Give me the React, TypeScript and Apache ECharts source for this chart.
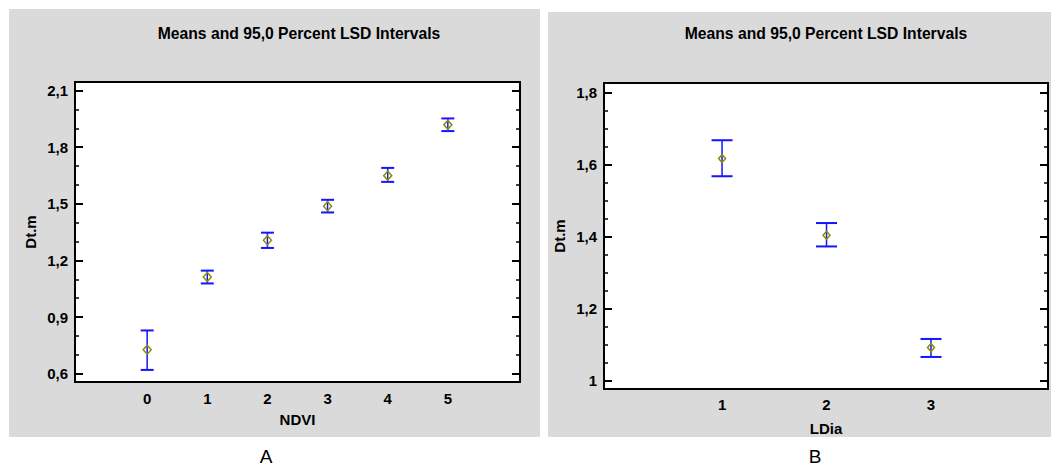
import React, { useEffect, useRef } from 'react';
import * as echarts from 'echarts';

// ---- Panel A : NDVI ----
const ndviCategories = [0, 1, 2, 3, 4, 5];
const ndviMeans = [0.727, 1.112, 1.307, 1.487, 1.649, 1.918];
const ndviLower = [0.620, 1.078, 1.266, 1.454, 1.616, 1.885];
const ndviUpper = [0.829, 1.146, 1.347, 1.521, 1.690, 1.952];
const ndviMajorTicks = [0.6, 0.9, 1.2, 1.5, 1.8, 2.1];
const ndviMinorTicks = [0.7, 0.8, 1.0, 1.1, 1.3, 1.4, 1.6, 1.7, 1.9, 2.0];

// ---- Panel B : LDia ----
const ldiaCategories = [1, 2, 3];
const ldiaMeans = [1.616, 1.403, 1.091];
const ldiaLower = [1.567, 1.372, 1.065];
const ldiaUpper = [1.667, 1.437, 1.115];
const ldiaMajorTicks = [1.0, 1.2, 1.4, 1.6, 1.8];
const ldiaMinorTicks = [1.05, 1.1, 1.15, 1.25, 1.3, 1.35, 1.45, 1.5, 1.55, 1.65, 1.7, 1.75];

const titleText = 'Means and 95,0 Percent LSD Intervals';
const yAxisName = 'Dt.m';
const xNameA = 'NDVI';
const xNameB = 'LDia';
const panelLetters = ['A', 'B'];

const FONT = '"Liberation Sans", Arial, sans-serif';
const PANEL_BG = '#dadada';
const BAR_BLUE = '#1414ff';
const MARKER = '#8c8c00';

const fmt = (v: number) => String(Math.round(v * 10) / 10).replace('.', ',');
const blank = () => '';

function yAxes(g: number, min: number, max: number, major: number[], minor: number[]) {
  const base = {
    type: 'value',
    gridIndex: g,
    min,
    max,
    axisLine: { show: false, onZero: false },
    splitLine: { show: false },
  };
  const labelStyle = {
    color: '#000',
    fontWeight: 'bold',
    fontSize: 15,
    fontFamily: FONT,
  };
  const tick = (len: number, w: number, vals: number[]) => ({
    show: true,
    inside: true,
    length: len,
    lineStyle: { color: '#000', width: w },
    customValues: vals,
  });
  return [
    {
      ...base,
      position: 'left',
      name: yAxisName,
      nameLocation: 'middle',
      nameGap: 37,
      nameTextStyle: labelStyle,
      axisTick: tick(8, 2, major),
      axisLabel: { ...labelStyle, margin: 7, customValues: major, formatter: fmt },
    },
    {
      ...base,
      position: 'left',
      axisTick: tick(4, 1.5, minor),
      axisLabel: { show: true, customValues: minor, formatter: blank },
    },
    {
      ...base,
      position: 'right',
      axisTick: tick(8, 2, major),
      axisLabel: { show: true, margin: 0, customValues: major, formatter: blank },
    },
    {
      ...base,
      position: 'right',
      axisTick: tick(4, 1.5, minor),
      axisLabel: { show: true, margin: 0, customValues: minor, formatter: blank },
    },
  ];
}

function xAxis(g: number, min: number, max: number, cats: number[], name: string, nameGap: number, margin: number) {
  const labelStyle = { color: '#000', fontWeight: 'bold', fontSize: 15, fontFamily: FONT };
  return {
    type: 'value',
    gridIndex: g,
    min,
    max,
    axisLine: { show: false, onZero: false },
    axisTick: { show: false },
    splitLine: { show: false },
    axisLabel: { ...labelStyle, margin, customValues: cats, formatter: (v: number) => String(v) },
    name,
    nameLocation: 'middle',
    nameGap,
    nameTextStyle: labelStyle,
  };
}

function errorSeries(g: number, yIdx: number, cats: number[], lo: number[], hi: number[], cap: number) {
  return {
    type: 'custom',
    xAxisIndex: g,
    yAxisIndex: yIdx,
    data: cats.map((c, i) => [c, lo[i], hi[i]]),
    encode: { x: 0, y: [1, 2] },
    z: 3,
    renderItem: (params: any, api: any) => {
      const x = api.value(0);
      const pLo = api.coord([x, api.value(1)]);
      const pHi = api.coord([x, api.value(2)]);
      const h = cap / 2;
      const style = { stroke: BAR_BLUE, lineWidth: 1.5, fill: null };
      return {
        type: 'group',
        children: [
          { type: 'line', shape: { x1: pLo[0], y1: pLo[1], x2: pHi[0], y2: pHi[1] }, style },
          { type: 'line', shape: { x1: pHi[0] - h, y1: pHi[1], x2: pHi[0] + h, y2: pHi[1] }, style: { ...style, lineWidth: 2 } },
          { type: 'line', shape: { x1: pLo[0] - h, y1: pLo[1], x2: pLo[0] + h, y2: pLo[1] }, style: { ...style, lineWidth: 2 } },
        ],
      };
    },
  };
}

function meanSeries(g: number, yIdx: number, cats: number[], means: number[], size: number[]) {
  return {
    type: 'scatter',
    xAxisIndex: g,
    yAxisIndex: yIdx,
    data: cats.map((c, i) => [c, means[i]]),
    symbol: 'diamond',
    symbolSize: size,
    z: 5,
    itemStyle: { color: 'rgba(255,255,255,0)', borderColor: MARKER, borderWidth: 1.5, opacity: 1 },
  };
}

export default function App() {
  const ref = useRef<HTMLDivElement>(null);

  useEffect(() => {
    if (!ref.current) return;
    const chart = echarts.init(ref.current, undefined, { renderer: 'svg' });
    const gridStyle = {
      show: true,
      backgroundColor: '#fff',
      borderColor: '#000',
      borderWidth: 2,
      containLabel: false,
      outerBoundsMode: 'none',
    };
    const titleFont = `bold 15.7px ${FONT}`;
    const option: any = {
      animation: false,
      backgroundColor: '#fff',
      graphic: {
        elements: [
          { type: 'rect', z: -10, shape: { x: 9, y: 9, width: 531, height: 428 }, style: { fill: PANEL_BG }, silent: true },
          { type: 'rect', z: -10, shape: { x: 548, y: 12, width: 503, height: 425 }, style: { fill: PANEL_BG }, silent: true },
          {
            type: 'text', x: 299, y: 33, z: 10,
            style: { text: titleText, font: titleFont, fill: '#000', textAlign: 'center', textVerticalAlign: 'middle' },
          },
          {
            type: 'text', x: 826, y: 33, z: 10,
            style: { text: titleText, font: titleFont, fill: '#000', textAlign: 'center', textVerticalAlign: 'middle' },
          },
          {
            type: 'text', x: 266, y: 456, z: 10,
            style: { text: panelLetters[0], font: `19px ${FONT}`, fill: '#000', textAlign: 'center', textVerticalAlign: 'middle' },
          },
          {
            type: 'text', x: 815, y: 456, z: 10,
            style: { text: panelLetters[1], font: `19px ${FONT}`, fill: '#000', textAlign: 'center', textVerticalAlign: 'middle' },
          },
        ],
      },
      grid: [
        { ...gridStyle, left: 75, top: 82, width: 445, height: 300 },
        { ...gridStyle, left: 604, top: 83, width: 444, height: 306 },
      ],
      xAxis: [
        xAxis(0, -1.2, 6.2, ndviCategories, xNameA, 30, 9),
        xAxis(1, -0.13, 4.12, ldiaCategories, xNameB, 32, 8),
      ],
      yAxis: [
        ...yAxes(0, 0.556, 2.145, ndviMajorTicks, ndviMinorTicks),
        ...yAxes(1, 0.976, 1.826, ldiaMajorTicks, ldiaMinorTicks),
      ],
      series: [
        errorSeries(0, 0, ndviCategories, ndviLower, ndviUpper, 13),
        meanSeries(0, 0, ndviCategories, ndviMeans, [8, 9]),
        errorSeries(1, 4, ldiaCategories, ldiaLower, ldiaUpper, 21),
        meanSeries(1, 4, ldiaCategories, ldiaMeans, [7, 8]),
      ],
    };
    chart.setOption(option);
    return () => chart.dispose();
  }, []);

  return (
    <div
      ref={ref}
      style={{ position: 'fixed', left: 0, top: 0, width: 1051, height: 466, background: '#fff' }}
    />
  );
}
